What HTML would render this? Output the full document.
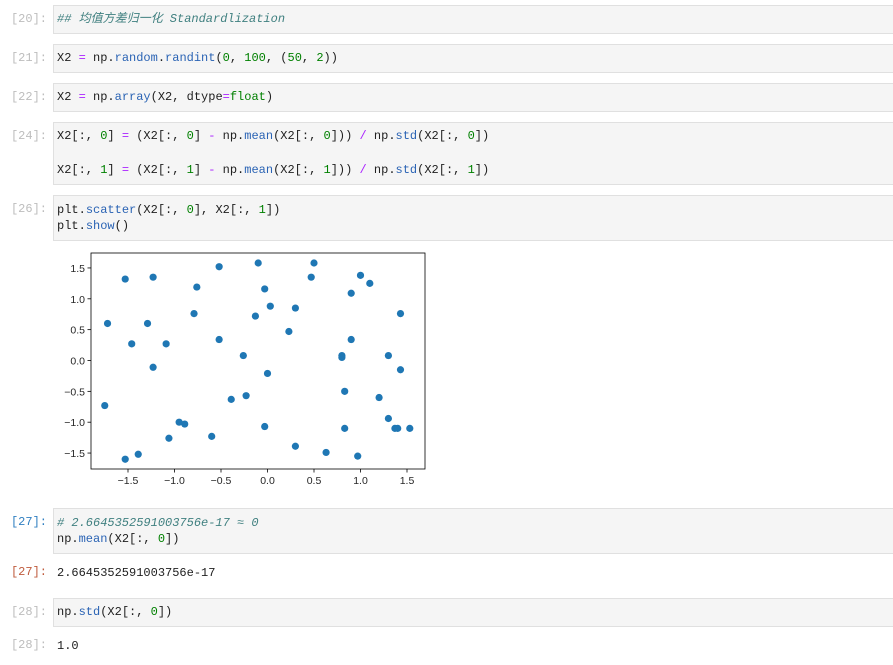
<!DOCTYPE html>
<html><head><meta charset="utf-8">
<style>
body{margin:0;width:893px;height:665px;background:#fff;position:relative;overflow:hidden;font-family:"Liberation Mono","Noto Sans CJK SC",monospace;font-size:12px;color:#212121}
.p{position:absolute;width:47px;text-align:right;color:#bdbdbd;font-size:12px}
.c{position:absolute;left:53px;width:845px;background:#f5f5f5;border:1px solid #e0e0e0;box-sizing:border-box}
.l{position:absolute;left:57px;white-space:pre;line-height:16px}
.k{color:#aa22ff}.f{color:#2a63b4}.n{color:#008000}.cm{color:#408080;font-style:italic}
</style></head><body>
<div class="p" style="top:12px">[20]:</div>
<div class="c" style="top:5px;height:29px"></div>
<div class="l cm" style="top:11px">## 均值方差归一化 Standardlization</div>

<div class="p" style="top:51px">[21]:</div>
<div class="c" style="top:44px;height:29px"></div>
<div class="l" style="top:50px">X2 <span class="k">=</span> np.<span class="f">random</span>.<span class="f">randint</span>(<span class="n">0</span>, <span class="n">100</span>, (<span class="n">50</span>, <span class="n">2</span>))</div>

<div class="p" style="top:90px">[22]:</div>
<div class="c" style="top:83px;height:29px"></div>
<div class="l" style="top:89px">X2 <span class="k">=</span> np.<span class="f">array</span>(X2, dtype<span class="k">=</span><span class="n">float</span>)</div>

<div class="p" style="top:129px">[24]:</div>
<div class="c" style="top:122px;height:63px"></div>
<div class="l" style="top:128px">X2[:, <span class="n">0</span>] <span class="k">=</span> (X2[:, <span class="n">0</span>] <span class="k">-</span> np.<span class="f">mean</span>(X2[:, <span class="n">0</span>])) <span class="k">/</span> np.<span class="f">std</span>(X2[:, <span class="n">0</span>])</div>
<div class="l" style="top:162px">X2[:, <span class="n">1</span>] <span class="k">=</span> (X2[:, <span class="n">1</span>] <span class="k">-</span> np.<span class="f">mean</span>(X2[:, <span class="n">1</span>])) <span class="k">/</span> np.<span class="f">std</span>(X2[:, <span class="n">1</span>])</div>

<div class="p" style="top:202px">[26]:</div>
<div class="c" style="top:195px;height:46px"></div>
<div class="l" style="top:202px">plt.<span class="f">scatter</span>(X2[:, <span class="n">0</span>], X2[:, <span class="n">1</span>])
plt.<span class="f">show</span>()</div>

<svg id="chart" style="position:absolute;left:0;top:240px" width="450" height="260"></svg>

<div class="p" style="top:515px;color:#307fc1">[27]:</div>
<div class="c" style="top:508px;height:46px"></div>
<div class="l" style="top:515px"><span class="cm"># 2.6645352591003756e-17 ≈ 0</span>
np.<span class="f">mean</span>(X2[:, <span class="n">0</span>])</div>
<div class="p" style="top:565px;color:#bf5b3d">[27]:</div>
<div class="l" style="top:565px">2.6645352591003756e-17</div>

<div class="p" style="top:605px">[28]:</div>
<div class="c" style="top:598px;height:29px"></div>
<div class="l" style="top:604px">np.<span class="f">std</span>(X2[:, <span class="n">0</span>])</div>
<div class="p" style="top:638px">[28]:</div>
<div class="l" style="top:638px">1.0</div>

<script>
const xs=[-1.75,-1.72,-1.53,-1.53,-1.46,-1.39,-1.29,-1.23,-1.23,-1.09,-1.06,-0.95,-0.89,-0.79,-0.76,-0.6,-0.52,-0.52,-0.39,-0.26,-0.23,-0.13,-0.1,-0.03,-0.03,0,0.03,0.23,0.3,0.3,0.47,0.5,0.63,0.8,0.8,0.83,0.83,0.9,0.9,0.97,1.0,1.1,1.2,1.3,1.3,1.37,1.4,1.43,1.43,1.53];
const ys=[-0.73,0.6,1.32,-1.6,0.27,-1.52,0.6,1.35,-0.11,0.27,-1.26,-1.0,-1.03,0.76,1.19,-1.23,1.52,0.34,-0.63,0.08,-0.57,0.72,1.58,1.16,-1.07,-0.21,0.88,0.47,0.85,-1.39,1.35,1.58,-1.49,0.08,0.05,-0.5,-1.1,1.09,0.34,-1.55,1.38,1.25,-0.6,0.08,-0.94,-1.1,-1.1,0.76,-0.15,-1.1];
const xTicks=[-1.5,-1.0,-0.5,0.0,0.5,1.0,1.5];
const yTicks=[-1.5,-1.0,-0.5,0.0,0.5,1.0,1.5];
const NS='http://www.w3.org/2000/svg';
const svg=document.getElementById('chart');
const L=91,R=425,T=13,B=229;
const sx=v=>267.5+v*93, sy=v=>120.5-v*61.7;
function mk(t,a){const e=document.createElementNS(NS,t);for(const k in a)e.setAttribute(k,a[k]);svg.appendChild(e);return e;}
const fr=mk('rect',{x:L,y:T,width:R-L,height:B-T,fill:'#fff',stroke:'#000','stroke-width':0.8});


xTicks.forEach(v=>{
  const t=mk('line',{x1:sx(v),x2:sx(v),y1:B,y2:B+3.5,stroke:'#000','stroke-width':0.8});
  
  
  const tx=mk('text',{x:sx(v),y:B+15,'text-anchor':'middle','font-size':'10.5','font-family':'Liberation Sans, sans-serif',fill:'#262626'});
  tx.textContent=(v<0?'\u2212':'')+Math.abs(v).toFixed(1);
  
  
});
yTicks.forEach(v=>{
  const t=mk('line',{x1:L-3.5,x2:L,y1:sy(v),y2:sy(v),stroke:'#000','stroke-width':0.8});
  
  
  const tx=mk('text',{x:L-6,y:sy(v)+4,'text-anchor':'end','font-size':'10.5','font-family':'Liberation Sans, sans-serif',fill:'#262626'});
  tx.textContent=(v<0?'\u2212':'')+Math.abs(v).toFixed(1);
  
  
});
xs.forEach((x,i)=>{
  const c=mk('circle',{cx:sx(x),cy:sy(ys[i]),r:3.6,fill:'#1f77b4'});
  
  
});
</script>
</body></html>
